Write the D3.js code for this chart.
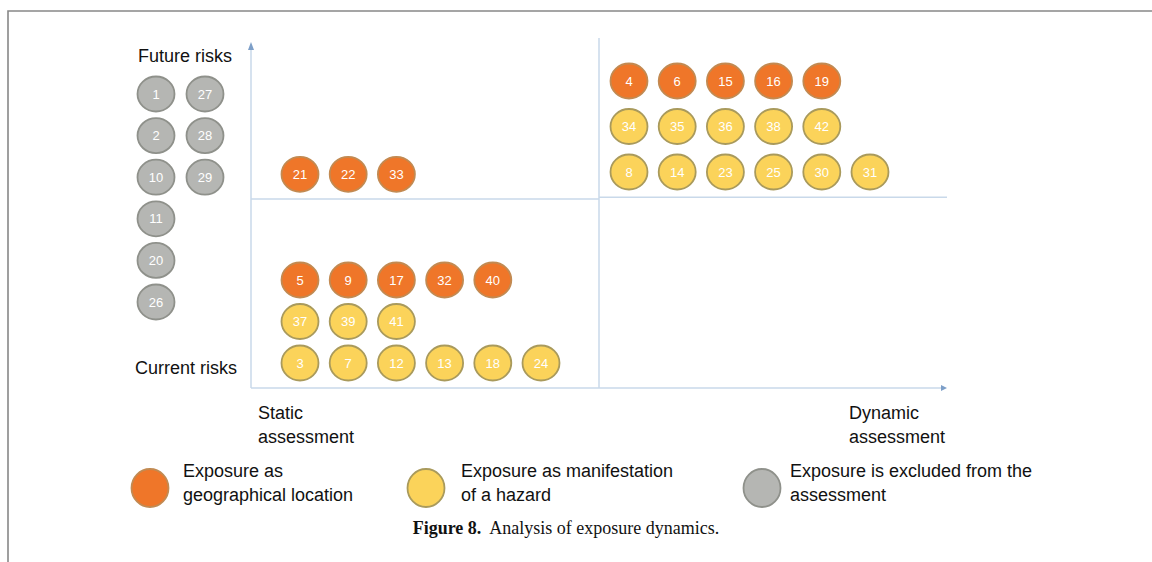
<!DOCTYPE html>
<html>
<head>
<meta charset="utf-8">
<script src="https://cdn.jsdelivr.net/npm/d3@7"></script>
<style>
  body { margin: 0; background: #fff; }
  svg { display: block; font-family: "Liberation Sans", Arial, sans-serif; }
</style>
</head>
<body>
<svg class="chart" width="1152" height="562"></svg>
<script>
// exposures per quadrant, one array per row
const futureStaticGeo = [21, 22, 33];
const futureDynamicGeo = [4, 6, 15, 16, 19];
const futureDynamicHazardA = [34, 35, 36, 38, 42];
const futureDynamicHazardB = [8, 14, 23, 25, 30, 31];
const currentStaticGeo = [5, 9, 17, 32, 40];
const currentStaticHazardA = [37, 39, 41];
const currentStaticHazardB = [3, 7, 12, 13, 18, 24];
const excludedColA = [1, 2, 10, 11, 20, 26];
const excludedColB = [27, 28, 29];

const categories = ["geo", "hazard", "excluded"];
const legendLabels = [
  ["Exposure as", "geographical location"],
  ["Exposure as manifestation", "of a hazard"],
  ["Exposure is excluded from the", "assessment"]
];
const colors = { geo: "#ef7629", hazard: "#fbd35a", excluded: "#b5b6b3" };
const strokes = { geo: "#c28a52", hazard: "#a99a5c", excluded: "#8f918b" };

const svg = d3.select(".chart");

// frame
svg.append("path")
  .attr("d", "M8,562 V11 H1152")
  .attr("fill", "none")
  .attr("stroke", "#888")
  .attr("stroke-width", 1.6);

// main scales: assessment (x) and time horizon (y)
const x = d3.scaleLinear().domain([0, 2]).range([251, 947]);
const y = d3.scaleLinear().domain([0, 2]).range([388, 38]);

const axisColor = "#c9d9ea";
const g = svg.append("g");

// quadrant dividers
g.append("line").attr("x1", x(1)).attr("x2", x(1)).attr("y1", y(2)).attr("y2", y(0))
  .attr("stroke", axisColor).attr("stroke-width", 1.5);
g.append("line").attr("x1", x(0)).attr("x2", x(1)).attr("y1", y(1.08)).attr("y2", y(1.08))
  .attr("stroke", axisColor).attr("stroke-width", 1.5);
g.append("line").attr("x1", x(1)).attr("x2", x(2)).attr("y1", y(1.09)).attr("y2", y(1.09))
  .attr("stroke", axisColor).attr("stroke-width", 1.5);

// axes with arrows
g.append("line").attr("x1", x(0)).attr("x2", x(0)).attr("y1", y(0)).attr("y2", 46)
  .attr("stroke", axisColor).attr("stroke-width", 1.5);
g.append("line").attr("x1", x(0)).attr("x2", x(2) - 4).attr("y1", y(0)).attr("y2", y(0))
  .attr("stroke", axisColor).attr("stroke-width", 1.5);
g.append("path")
  .attr("d", `M${x(0) - 3},50 L${x(0)},42 L${x(0) + 3},50 Z`)
  .attr("fill", "#7d9fc8");
g.append("path")
  .attr("d", `M${x(2) - 6},${y(0) - 3} L${x(2)},${y(0)} L${x(2) - 6},${y(0) + 3} Z`)
  .attr("fill", "#7d9fc8");

// text helper
const label = (tx, ty, lines, anchor) => {
  const t = svg.append("text")
    .attr("x", tx).attr("y", ty)
    .attr("text-anchor", anchor || "start")
    .attr("font-size", 18)
    .attr("fill", "#111");
  lines.forEach((l, i) => t.append("tspan").attr("x", tx).attr("dy", i ? 24 : 0).text(l));
};
label(185, 62, ["Future risks"], "middle");
label(186, 374, ["Current risks"], "middle");
label(258, 419, ["Static", "assessment"]);
label(849, 419, ["Dynamic", "assessment"]);

// column and row positions inside quadrants
const col = d3.scaleLinear().domain([0, 5]).range([0, 241]);
const futureRow = d3.scaleLinear().domain([0, 2]).range([81, 172]);
const currentRow = d3.scaleLinear().domain([0, 2]).range([280, 363]);
const exclRow = d3.scaleLinear().domain([0, 5]).range([94, 302]);

const rows = [
  { ids: futureStaticGeo, cat: "geo", x0: 300, cy: futureRow(2.05) },
  { ids: futureDynamicGeo, cat: "geo", x0: 629, cy: futureRow(0) },
  { ids: futureDynamicHazardA, cat: "hazard", x0: 629, cy: futureRow(1) },
  { ids: futureDynamicHazardB, cat: "hazard", x0: 629, cy: futureRow(2) },
  { ids: currentStaticGeo, cat: "geo", x0: 300, cy: currentRow(0) },
  { ids: currentStaticHazardA, cat: "hazard", x0: 300, cy: currentRow(1) },
  { ids: currentStaticHazardB, cat: "hazard", x0: 300, cy: currentRow(2) }
];

const nodes = [];
rows.forEach(r => r.ids.forEach((id, i) =>
  nodes.push({ id, cat: r.cat, cx: r.x0 + col(i), cy: r.cy })));
excludedColA.forEach((id, i) => nodes.push({ id, cat: "excluded", cx: 156, cy: exclRow(i) }));
excludedColB.forEach((id, i) => nodes.push({ id, cat: "excluded", cx: 205, cy: exclRow(i) }));

const node = svg.selectAll(".node")
  .data(nodes)
  .enter()
  .append("g")
  .attr("class", "node")
  .attr("transform", d => `translate(${d.cx},${d.cy})`);

node.append("ellipse")
  .attr("rx", 18.5).attr("ry", 17.5)
  .attr("fill", d => colors[d.cat])
  .attr("stroke", d => strokes[d.cat])
  .attr("stroke-width", 1.8);

node.append("text")
  .attr("text-anchor", "middle")
  .attr("dy", "0.36em")
  .attr("font-size", 13)
  .attr("fill", "#fff")
  .text(d => d.id);

// legend
const legendX = [150, 426, 762];
categories.forEach((c, i) => {
  svg.append("ellipse")
    .attr("cx", legendX[i]).attr("cy", 488)
    .attr("rx", 18.5).attr("ry", 19)
    .attr("fill", colors[c])
    .attr("stroke", strokes[c])
    .attr("stroke-width", 1.8);
  label(legendX[i] + (i === 0 ? 33 : i === 1 ? 35 : 28), 477, legendLabels[i]);
});

// caption
const cap = svg.append("text")
  .attr("x", 566).attr("y", 534)
  .attr("text-anchor", "middle")
  .attr("font-family", "'Liberation Serif', 'DejaVu Serif', serif")
  .attr("font-size", 18)
  .attr("fill", "#111");
cap.append("tspan").attr("font-weight", "bold").text("Figure 8.");
cap.append("tspan").text("\u00a0 Analysis of exposure dynamics.");
</script>
</body>
</html>
